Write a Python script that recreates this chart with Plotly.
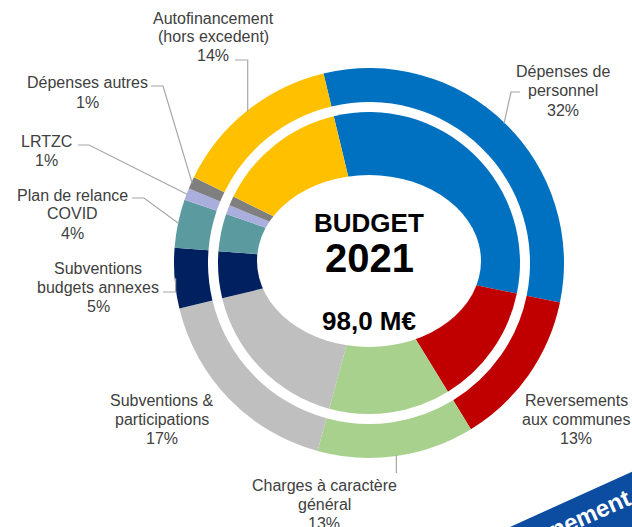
import math
import plotly.graph_objects as go

categories = ["Dépenses de personnel", "Reversements aux communes", "Charges à caractère général",
              "Subventions & participations", "Subventions budgets annexes", "Plan de relance COVID",
              "LRTZC", "Dépenses autres", "Autofinancement (hors excedent)"]
shares = [32, 13, 13, 17, 5, 4, 1, 1, 14]
label_lines = [["Dépenses de", "personnel"], ["Reversements", "aux communes"],
               ["Charges à caractère", "général"], ["Subventions &", "participations"],
               ["Subventions", "budgets annexes"], ["Plan de relance", "COVID"],
               ["LRTZC"], ["Dépenses autres"], ["Autofinancement", "(hors excedent)"]]
colors = ["#0070C0", "#C00000", "#A9D18E", "#BFBFBF", "#002060",
          "#5B9A9E", "#AAAEDC", "#7F7F7F", "#FFC000"]
center_title = "BUDGET"
center_year = "2021"
center_total = "98,0 M€"
ribbon_text = "Fonctionnement"

W, H = 632, 527
CX, CY = 369, 263          # ring centre (px)
R_OUT, R_OUT_IN = 195, 161
R_IN = 151
ROTATION = -13.5
# white oval in the middle (centre x, centre y, half width, half height)
OVAL = (369, 261, 112, 86)
FONT = "Liberation Sans, Arial, sans-serif"
TXT = "#404040"
LINE_GAP = 19

# label block centre x / first line y (px)
label_pos = [(563, 72), (576, 400), (324, 485), (162, 400), (98, 268),
             (72, 195), (47, 141), (87, 83), (213, 18)]
# leader: (start x or None = edge x, y, elbow x or None = edge x)
leaders = {0: (520, 92, 511), 2: (None, 473, None), 4: (163, 292, None),
           5: (132, 198, 144), 6: (78, 145, 89), 7: (151, 86, 163), 8: (235, 60, None)}


def px(x, y):
    return x / W, 1 - y / H


def domain(r):
    (x0, y0), (x1, y1) = px(CX - r, CY + r), px(CX + r, CY - r)
    return dict(x=[x0, x1], y=[y0, y1])


fig = go.Figure()
for r, hole in [(R_OUT, R_OUT_IN / R_OUT), (R_IN, 0)]:
    fig.add_trace(go.Pie(
        labels=categories, values=shares, hole=hole, domain=domain(r),
        sort=False, direction="clockwise", rotation=ROTATION,
        marker=dict(colors=colors, line=dict(width=0)),
        textinfo="none", hoverinfo="label+percent", showlegend=False
    ))

shapes = []
annotations = []
total = sum(shares)
cum = 0
for i, v in enumerate(shares):
    a = math.radians(ROTATION + (cum + v / 2) / total * 360)
    cum += v
    ex = CX + (R_OUT - 1) * math.sin(a)
    ey = CY - (R_OUT - 1) * math.cos(a)

    lx, ly = label_pos[i]
    lines = label_lines[i] + [f"{v}%"]
    for k, t in enumerate(lines):
        x, y = px(lx, ly + k * LINE_GAP)
        annotations.append(dict(x=x, y=y, xref="paper", yref="paper", text=t, showarrow=False,
                                xanchor="center", yanchor="middle",
                                font=dict(family=FONT, size=16, color=TXT)))

    if i in leaders:
        sx, sy, bx = leaders[i]
        sx = ex if sx is None else sx
        bx = ex if bx is None else bx
        pts = [px(sx, sy), px(bx, sy), px(ex, ey)]
        path = "M " + " L ".join(f"{p[0]:.5f},{p[1]:.5f}" for p in pts)
        shapes.append(dict(type="path", path=path, xref="paper", yref="paper",
                           line=dict(color="#A6A6A6", width=1.2)))

# white centre oval
ox, oy, oa, ob = OVAL
x0, y0 = px(ox - oa, oy + ob)
x1, y1 = px(ox + oa, oy - ob)
shapes.append(dict(type="circle", xref="paper", yref="paper", x0=x0, y0=y0, x1=x1, y1=y1,
                   fillcolor="white", line=dict(width=0)))

for t, y, s in [(center_title, 223, 26), (center_year, 258, 40), (center_total, 321, 26)]:
    x, yy = px(369, y)
    annotations.append(dict(x=x, y=yy, xref="paper", yref="paper", text=f"<b>{t}</b>",
                            showarrow=False, xanchor="center", yanchor="middle",
                            font=dict(family=FONT, size=s, color="black")))

# corner ribbon
rib = [px(510, 527), px(640, 468), px(640, 540), px(500, 540)]
shapes.append(dict(type="path", xref="paper", yref="paper", line=dict(width=0),
                   fillcolor="#0D4DA1",
                   path="M " + " L ".join(f"{p[0]:.5f},{p[1]:.5f}" for p in rib) + " Z"))
x, y = px(543, 534)
annotations.append(dict(x=x, y=y, xref="paper", yref="paper", text=f"<b>{ribbon_text}</b>",
                        showarrow=False, textangle=-24, xanchor="center", yanchor="middle",
                        font=dict(family=FONT, size=24, color="white")))

fig.update_layout(
    width=W, height=H,
    margin=dict(l=0, r=0, t=0, b=0),
    paper_bgcolor="white", plot_bgcolor="white",
    shapes=shapes, annotations=annotations,
)

fig.write_html("out.html", config={"displayModeBar": False},
               post_script="document.body.style.margin='0';")
